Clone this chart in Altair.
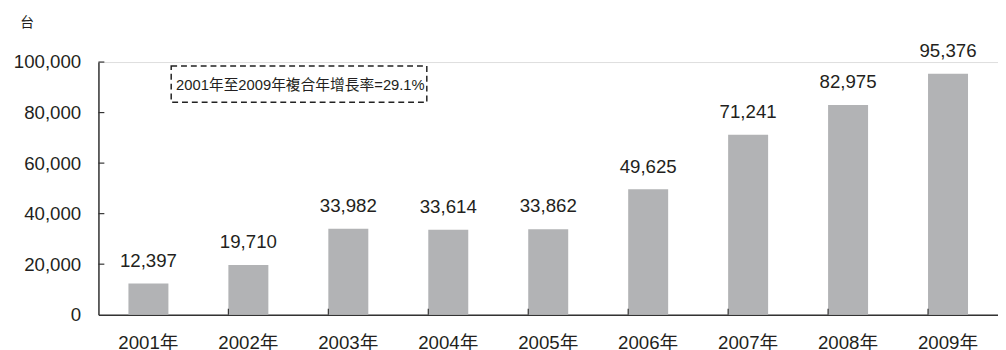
import altair as alt
import pandas as pd

years = ["2001年", "2002年", "2003年", "2004年", "2005年", "2006年", "2007年", "2008年", "2009年"]
units = [12397, 19710, 33982, 33614, 33862, 49625, 71241, 82975, 95376]
y_ticks = [20000, 40000, 60000, 80000, 100000]
note = "2001年至2009年複合年增長率=29.1%"
unit_label = "台"

FONT = "Liberation Sans, Arial, Noto Sans CJK TC, sans-serif"
BAR = "#b2b3b5"
INK = "#231f20"
W, H = 915, 257

df = pd.DataFrame({"year": years, "units": units})
df_yt = pd.DataFrame({"units": y_ticks})
df_xt = pd.DataFrame({"year": years[1:]})
df_note = pd.DataFrame({"t": [note]})

xscale = alt.Scale(paddingInner=0.6, paddingOuter=0.3)
yscale = alt.Scale(domain=[0, 100000], nice=False)

bars = alt.Chart(df).mark_bar(color=BAR).encode(
    x=alt.X("year:N", sort=years, scale=xscale,
            axis=alt.Axis(title=None, labelAngle=0, ticks=False, grid=False, labelPadding=19,
                          labelFontSize=19, labelFont=FONT, labelColor=INK,
                          domainColor="#333", domainWidth=1.5)),
    y=alt.Y("units:Q", scale=yscale,
            axis=alt.Axis(values=[0] + y_ticks, format=",d", ticks=False, grid=False,
                          labelFontSize=19, labelFont=FONT, labelColor=INK, labelPadding=18,
                          domainColor="#333", domainWidth=1.5,
                          title=unit_label, titleAngle=0, titleX=-80, titleY=-40,
                          titleAlign="left", titleBaseline="middle",
                          titleFontSize=14, titleFontWeight="normal",
                          titleFont=FONT, titleColor=INK)),
)

labels = alt.Chart(df).mark_text(baseline="alphabetic", dy=-17, fontSize=19,
                                 font=FONT, color=INK).encode(
    x=alt.X("year:N", sort=years),
    y=alt.Y("units:Q"),
    text=alt.Text("units:Q", format=",d"),
)

ytick_marks = alt.Chart(df_yt).mark_rule(color="#333", strokeWidth=1.2).encode(
    y=alt.Y("units:Q"),
    x=alt.value(0), x2=alt.value(6),
)

xtick_marks = alt.Chart(df_xt).mark_rule(color="#333", strokeWidth=1.2).encode(
    x=alt.X("year:N", bandPosition=0, sort=years),
    y=alt.value(H), y2=alt.value(H - 6),
)

box = alt.Chart(df_note).mark_rect(fill=None, fillOpacity=0, stroke="#222",
                                   strokeWidth=1.5, strokeDash=[6, 4]).encode(
    x=alt.value(74), x2=alt.value(334), y=alt.value(4), y2=alt.value(41),
)

note_text = alt.Chart(df_note).mark_text(align="left", baseline="middle", fontSize=15,
                                         font=FONT, color=INK).encode(
    x=alt.value(79), y=alt.value(23), text="t:N",
)

chart = alt.layer(bars, labels, ytick_marks, xtick_marks, box, note_text).properties(
    width=W, height=H,
    padding={"left": 5, "top": 5, "right": 0, "bottom": 0},
).configure_view(stroke=None).configure_axis(grid=False).configure(background="white")

chart.save("out.html", embed_options={"renderer": "svg", "actions": False})
